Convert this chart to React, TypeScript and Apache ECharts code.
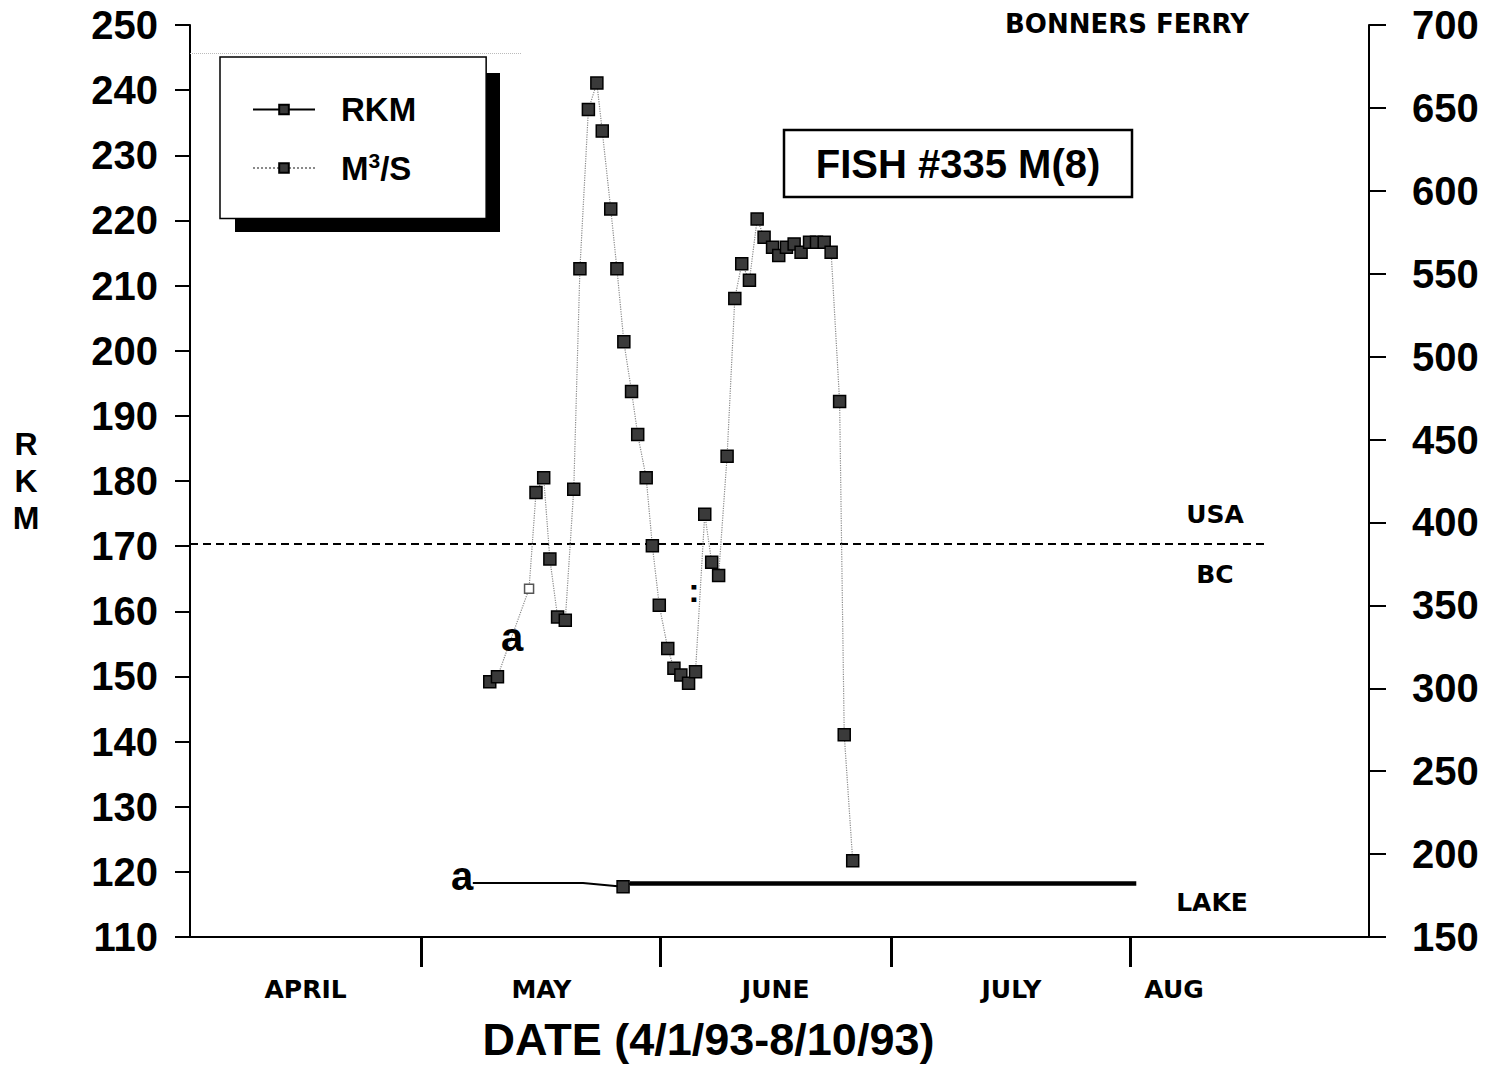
import React, { useEffect, useRef } from "react";
import * as echarts from "echarts";

// ---- data (days counted from 1 April 1993) ----
const flowDays = [38.9, 39.9, 44.0, 44.9, 45.9, 46.7, 47.7, 48.7, 49.8, 50.6, 51.7, 52.8, 53.5, 54.6, 55.4, 56.3, 57.3, 58.1, 59.2, 60.0, 60.9, 62.0, 62.8, 63.7, 64.7, 65.6, 66.8, 67.7, 68.6, 69.7, 70.7, 71.6, 72.6, 73.6, 74.5, 75.6, 76.4, 77.4, 78.4, 79.3, 80.4, 81.3, 82.3, 83.2, 84.3, 84.9, 86.0];
const flowValues = [304, 307, 360, 418, 427, 378, 343, 341, 420, 553, 649, 665, 636, 589, 553, 509, 479, 453, 427, 386, 350, 324, 312, 308, 303, 310, 405, 376, 368, 440, 535, 556, 546, 583, 572, 566, 561, 566, 568, 563, 569, 569, 569, 563, 473, 272, 196];
const hollowFlowIndex = 2;

const rkmDays = [36.7, 51.0, 56.2, 57.1];
const rkmValues = [118.3, 118.3, 117.7, 118.2];
const rkmMarkerIndex = 2;
const rkmLakeDays = [57.1, 122.8];
const rkmLakeValues = [118.2, 118.2];

const borderRkm = 170.3; // USA / BC
const borderEndDay = 139.6;
const bonnersRkm = 245.6;
const bonnersEndDay = 43;

const monthNames = ["APRIL", "MAY", "JUNE", "JULY", "AUG"];
const monthLabelDays = [15, 45.6, 76, 106.6, 127.7];
const monthBoundaryDays = [30, 61, 91, 122];

const xMin = 0;
const xMax = 153;
const rkmMin = 110;
const rkmMax = 250;
const rkmStep = 10;
const flowMin = 150;
const flowMax = 700;
const flowStep = 50;

const SANS = '"Liberation Sans", Arial, sans-serif';
const DJ = '"DejaVu Sans", sans-serif';

function txt(text: string, x: number, y: number, size: number, family: string, weight: string | number = "bold", z = 20) {
  return {
    type: "text",
    x,
    y,
    z,
    style: {
      text,
      fill: "#000",
      fontSize: size,
      fontFamily: family,
      fontWeight: weight,
      align: "center",
      verticalAlign: "middle",
      textAlign: "center",
      textVerticalAlign: "middle",
    },
  };
}

export default function App() {
  const ref = useRef<HTMLDivElement>(null);

  useEffect(() => {
    if (!ref.current) return;
    const chart = echarts.init(ref.current, null, { renderer: "svg" });

    const labelMap: Record<string, string> = {};
    monthLabelDays.forEach((d, i) => (labelMap[String(d)] = monthNames[i]));

    const flowData = flowDays.map((d, i) =>
      i === hollowFlowIndex
        ? { value: [d, flowValues[i]], symbolSize: 9, itemStyle: { color: "#fff", borderColor: "#555", borderWidth: 1.5 } }
        : { value: [d, flowValues[i]] }
    );
    const rkmData = rkmDays.map((d, i) => ({
      value: [d, rkmValues[i]],
      symbolSize: i === rkmMarkerIndex ? 12 : 0,
    }));
    const lakeData = rkmLakeDays.map((d, i) => [d, rkmLakeValues[i]]);

    const option: any = {
      animation: false,
      backgroundColor: "#fff",
      grid: { left: 190, right: 124, top: 25, bottom: 133, containLabel: false, outerBoundsMode: "none" },
      legend: {
        data: ["RKM", "M³/S"],
        left: 220,
        top: 57,
        orient: "vertical",
        itemWidth: 62,
        itemHeight: 12,
        itemGap: 24,
        padding: [36, 70, 34, 32],
        backgroundColor: "#fff",
        borderColor: "#000",
        borderWidth: 1.5,
        z: 10,
        formatter: (name: string) => (name === "RKM" ? "{a|RKM}" : "{a|M}{s|3}{a|/S}"),
        textStyle: {
          color: "#000",
          fontFamily: SANS,
          fontSize: 33,
          fontWeight: "bold",
          padding: [0, 0, 0, 21],
          rich: {
            a: { fontFamily: SANS, fontSize: 33, fontWeight: "bold", color: "#000", lineHeight: 36 },
            s: { fontFamily: SANS, fontSize: 21, fontWeight: "bold", color: "#000", lineHeight: 20, verticalAlign: "top" },
          },
        },
      },
      xAxis: {
        type: "value",
        min: xMin,
        max: xMax,
        splitLine: { show: false },
        axisLine: { show: true, lineStyle: { color: "#000", width: 2 } },
        axisTick: { show: true, customValues: monthBoundaryDays, length: 30, inside: false, lineStyle: { color: "#000", width: 3 } },
        axisLabel: {
          customValues: monthLabelDays,
          margin: 40,
          color: "#000",
          fontFamily: DJ,
          fontWeight: "bold",
          fontSize: 25,
          formatter: (v: number) => labelMap[String(v)] || "",
        },
        name: "DATE (4/1/93-8/10/93)",
        nameLocation: "middle",
        nameGap: 80,
        nameTextStyle: {
          color: "#000",
          fontFamily: SANS,
          fontWeight: "bold",
          fontSize: 45,
          padding: [0, 142, 0, 0],
        },
      },
      yAxis: [
        {
          type: "value",
          min: rkmMin,
          max: rkmMax,
          interval: rkmStep,
          position: "left",
          splitLine: { show: false },
          axisLine: { show: true, lineStyle: { color: "#000", width: 2 } },
          axisTick: { show: true, length: 15, inside: false, lineStyle: { color: "#000", width: 2 } },
          axisLabel: { color: "#000", fontFamily: SANS, fontWeight: "bold", fontSize: 40, margin: 32 },
          name: "R\nK\nM",
          nameLocation: "middle",
          nameRotate: 0,
          nameGap: 164,
          nameTextStyle: {
            color: "#000",
            fontFamily: SANS,
            fontWeight: "bold",
            fontSize: 32,
            lineHeight: 37,
            align: "center",
            verticalAlign: "middle",
            padding: [28, 0, 0, 0],
          },
        },
        {
          type: "value",
          min: flowMin,
          max: flowMax,
          interval: flowStep,
          position: "right",
          splitLine: { show: false },
          axisLine: { show: true, lineStyle: { color: "#000", width: 2 } },
          axisTick: { show: true, length: 17, inside: false, lineStyle: { color: "#000", width: 2 } },
          axisLabel: { color: "#000", fontFamily: SANS, fontWeight: "bold", fontSize: 40, margin: 43 },
        },
      ],
      series: [
        {
          name: "RKM",
          type: "line",
          yAxisIndex: 0,
          data: rkmData,
          symbol: "rect",
          symbolSize: 12,
          showAllSymbol: true,
          lineStyle: { color: "#000", width: 2 },
          itemStyle: { color: "#3a3a3a", borderColor: "#000", borderWidth: 1.5 },
          z: 4,
          markLine: {
            silent: true,
            symbol: "none",
            label: { show: false },
            data: [
              [
                { coord: [xMin, borderRkm], lineStyle: { color: "#000", width: 2, type: [8, 5] } },
                { coord: [borderEndDay, borderRkm] },
              ],
              [
                { coord: [xMin, bonnersRkm], lineStyle: { color: "#bbb", width: 1, type: "dotted" } },
                { coord: [bonnersEndDay, bonnersRkm] },
              ],
            ],
          },
        },
        {
          name: "RKM lake",
          type: "line",
          yAxisIndex: 0,
          data: lakeData,
          symbol: "none",
          lineStyle: { color: "#000", width: 4.5 },
          z: 3,
        },
        {
          name: "M³/S",
          type: "line",
          yAxisIndex: 1,
          data: flowData,
          symbol: "rect",
          symbolSize: 12,
          showAllSymbol: true,
          lineStyle: { color: "#8a8a8a", width: 1.2, type: "dotted" },
          itemStyle: { color: "#3a3a3a", borderColor: "#000", borderWidth: 1.5 },
          z: 5,
        },
      ],
      graphic: [
        { type: "rect", z: 1, shape: { x: 235, y: 73, width: 265, height: 159 }, style: { fill: "#000" } },
        { type: "rect", z: 15, shape: { x: 784, y: 130, width: 348, height: 67 }, style: { fill: "#fff", stroke: "#000", lineWidth: 2.5 } },
        txt("FISH #335 M(8)", 958, 164, 40, SANS, "bold", 16),
        txt("BONNERS FERRY", 1127, 24, 26, DJ, "bold"),
        txt("USA", 1215, 514, 25, DJ, "bold"),
        txt("BC", 1215, 574, 25, DJ, "bold"),
        txt("LAKE", 1212, 902, 25, DJ, "bold"),
        txt("a", 462, 876, 40, SANS, "bold"),
        txt("a", 512, 637, 40, SANS, "bold"),
        txt(":", 694, 590, 34, SANS, "bold"),
      ],
    };

    chart.setOption(option);
    return () => chart.dispose();
  }, []);

  return (
    <div
      ref={ref}
      style={{ position: "absolute", left: 0, top: 0, width: 1493, height: 1070, background: "#fff" }}
    />
  );
}
